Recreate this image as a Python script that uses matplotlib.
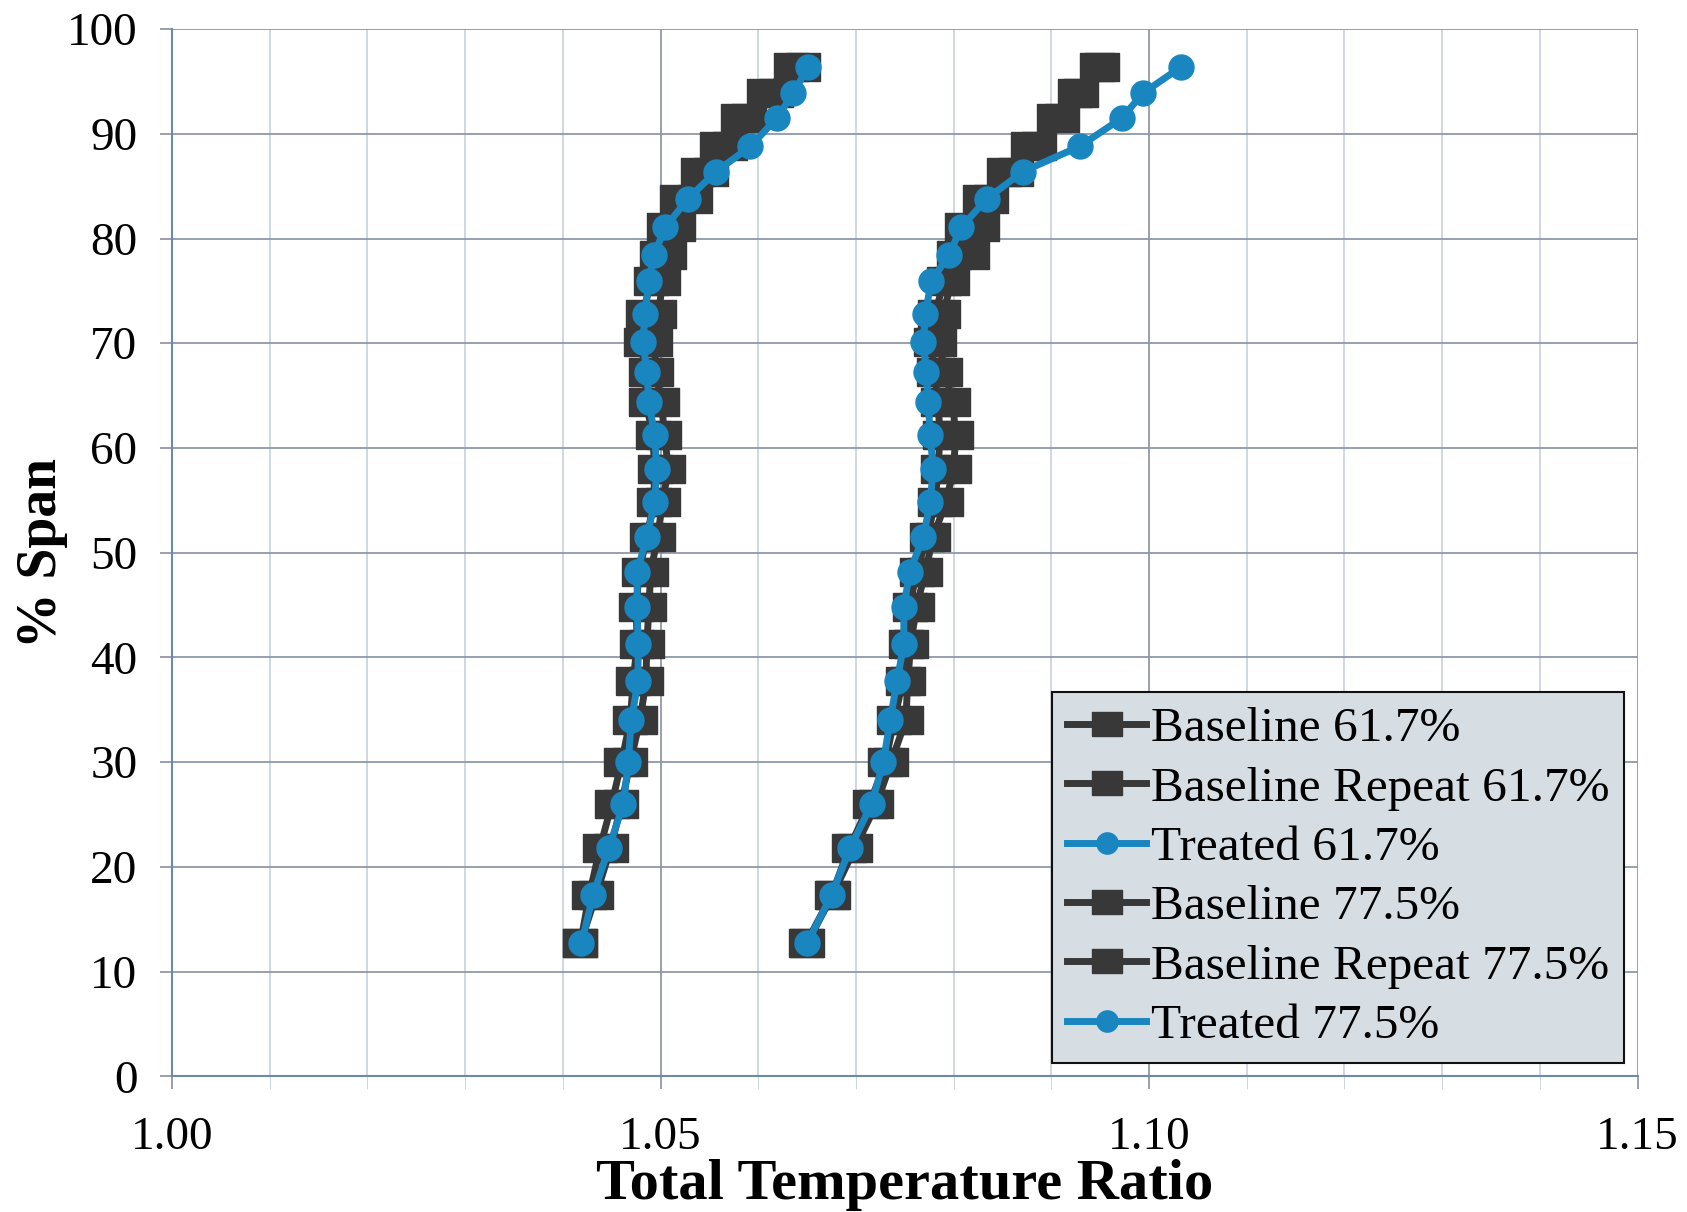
import numpy as np
import matplotlib
matplotlib.use("Agg")
import matplotlib.pyplot as plt
from matplotlib.ticker import MultipleLocator

plt.rcParams['font.family'] = ['Liberation Serif', 'DejaVu Serif']

# % span positions of the traverse points
span = [96.4, 93.9, 91.5, 88.8, 86.4, 83.8, 81.1, 78.4, 75.9, 72.8, 70.1, 67.3, 64.4, 61.2,
        58.0, 54.8, 51.5, 48.2, 44.8, 41.3, 37.7, 34.0, 30.0, 26.0, 21.8, 17.3, 12.7]

base_617 = [1.0646, 1.0618, 1.0591, 1.0571, 1.0552, 1.0535, 1.0518, 1.0509, 1.0502, 1.0498,
            1.0494, 1.0495, 1.0501, 1.0504, 1.0508, 1.0502, 1.0497, 1.0490, 1.0488, 1.0486,
            1.0485, 1.0479, 1.0469, 1.0460, 1.0449, 1.0434, 1.0418]
rep_617 = [1.0633, 1.0606, 1.0579, 1.0558, 1.0538, 1.0517, 1.0503, 1.0496, 1.0490, 1.0482,
           1.0480, 1.0485, 1.0485, 1.0492, 1.0494, 1.0493, 1.0486, 1.0478, 1.0475, 1.0476,
           1.0472, 1.0469, 1.0460, 1.0450, 1.0438, 1.0427, 1.0418]
treat_617 = [1.0651, 1.0636, 1.0619, 1.0592, 1.0557, 1.0528, 1.0505, 1.0493, 1.0488, 1.0484,
             1.0482, 1.0486, 1.0488, 1.0494, 1.0496, 1.0494, 1.0486, 1.0476, 1.0476, 1.0477,
             1.0477, 1.0470, 1.0467, 1.0462, 1.0447, 1.0431, 1.0419]

base_775 = [1.0952, 1.0930, 1.0911, 1.0887, 1.0864, 1.0838, 1.0829, 1.0819, 1.0798, 1.0789,
            1.0785, 1.0791, 1.0799, 1.0802, 1.0800, 1.0792, 1.0779, 1.0771, 1.0762, 1.0756,
            1.0753, 1.0751, 1.0736, 1.0721, 1.0699, 1.0676, 1.0650]
rep_775 = [1.0947, 1.0924, 1.0903, 1.0876, 1.0852, 1.0827, 1.0809, 1.0800, 1.0790, 1.0781,
           1.0777, 1.0780, 1.0784, 1.0786, 1.0784, 1.0781, 1.0773, 1.0762, 1.0755, 1.0751,
           1.0748, 1.0739, 1.0730, 1.0714, 1.0693, 1.0675, 1.0649]
treat_775 = [1.1033, 1.0994, 1.0972, 1.0929, 1.0871, 1.0834, 1.0808, 1.0795, 1.0777, 1.0771,
             1.0769, 1.0772, 1.0774, 1.0776, 1.0779, 1.0776, 1.0769, 1.0755, 1.0749, 1.0749,
             1.0742, 1.0735, 1.0728, 1.0716, 1.0694, 1.0675, 1.0650]

dark = '#383838'
blue = '#1a86c0'
grid_major = '#8f98aa'
grid_minor = '#c9d0dc'

# slightly wide rectangle for the square markers
rect = [(-1, -0.8), (1, -0.8), (1, 0.8), (-1, 0.8), (-1, -0.8)]

fig = plt.figure(figsize=(16.87, 12.12), dpi=100)
ax = fig.add_axes([0.102, 0.112, 0.8687, 0.864])

sq = dict(color=dark, lw=5, marker=rect, ms=25, mfc=dark, mec=dark)
ci = dict(color=blue, lw=5, marker='o', ms=18, mfc=blue, mec=blue)

ax.plot(base_617, span, label='Baseline 61.7%', **sq)
ax.plot(rep_617, span, label='Baseline Repeat 61.7%', **sq)
ax.plot(treat_617, span, label='Treated 61.7%', **ci)
ax.plot(base_775, span, label='Baseline 77.5%', **sq)
ax.plot(rep_775, span, label='Baseline Repeat 77.5%', **sq)
ax.plot(treat_775, span, label='Treated 77.5%', **ci)

ax.set_xlim(1.00, 1.15)
ax.set_ylim(0, 100)
ax.xaxis.set_major_locator(MultipleLocator(0.05))
ax.xaxis.set_minor_locator(MultipleLocator(0.01))
ax.yaxis.set_major_locator(MultipleLocator(10))
ax.set_xticklabels([f'{v:.2f}' for v in ax.get_xticks()])

ax.grid(which='minor', axis='x', color=grid_minor, lw=1.2)
ax.grid(which='major', axis='x', color=grid_major, lw=1.3)
ax.grid(which='major', axis='y', color=grid_major, lw=1.3)
ax.set_axisbelow(True)
for s in ['top', 'right']:
    ax.spines[s].set_visible(False)
for s in ['left', 'bottom']:
    ax.spines[s].set_color('#6f8aa8')
    ax.spines[s].set_linewidth(1.5)

ax.tick_params(axis='both', which='major', labelsize=34, length=9, color=grid_major, width=1.3)
ax.tick_params(axis='x', which='minor', length=9, color=grid_minor)
ax.tick_params(axis='y', pad=16)
ax.tick_params(axis='x', pad=20)

ax.set_xlabel('Total Temperature Ratio', fontsize=42, fontweight='bold', labelpad=0)
ax.set_ylabel('% Span', fontsize=40, fontweight='bold')
ax.yaxis.label.set_verticalalignment('center')
ax.yaxis.set_label_coords(-0.089, 0.5)

leg = ax.legend(loc='lower right', bbox_to_anchor=(0.991, 0.013), borderaxespad=0,
                fontsize=35.5, handlelength=1.6, handletextpad=0.1, labelspacing=0.3,
                markerscale=0.85, fancybox=False, framealpha=1,
                borderpad=0.3)
leg.get_frame().set_facecolor('#d6dee4')
leg.get_frame().set_edgecolor('#111111')
leg.get_frame().set_linewidth(1.5)

fig.savefig('out.png', dpi=100)
